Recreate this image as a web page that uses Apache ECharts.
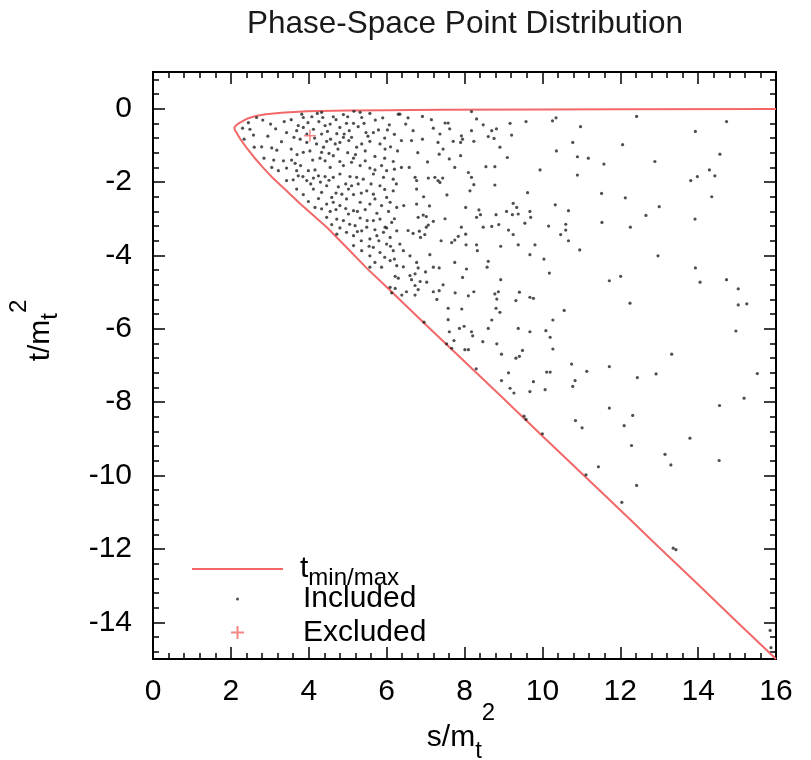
<!DOCTYPE html>
<html>
<head>
<meta charset="utf-8">
<script src="https://cdn.jsdelivr.net/npm/echarts@6/dist/echarts.min.js"></script>
<style>html,body{margin:0;padding:0;background:#fff}#c{width:811px;height:760px}</style>
</head>
<body>
<div id="c"></div>
<script>
// ---------- data ----------
const titleText = 'Phase-Space Point Distribution';
const yTickValues = [0, -2, -4, -6, -8, -10, -12, -14];

// kinematic boundary, upper branch (right to left) then lower branch (left to right)
const curveUpperS = [16, 12, 10, 7.4, 6, 5, 3.95, 3.3, 2.9, 2.67, 2.45, 2.3, 2.2, 2.14, 2.09];
const curveUpperT = [-0.01, -0.015, -0.02, -0.03, -0.04, -0.05, -0.07, -0.11, -0.15, -0.19, -0.26, -0.34, -0.40, -0.45, -0.51];
const curveLowerS = [2.10, 2.15, 2.25, 2.4, 2.6, 2.82, 3.05, 3.34, 3.78, 4.47, 4.98, 5.5, 6, 7, 8, 9, 10, 11, 12, 13, 14, 15, 16];
const curveLowerT = [-0.58, -0.66, -0.84, -1.06, -1.33, -1.6, -1.86, -2.15, -2.59, -3.24, -3.79, -4.36, -4.86, -5.88, -6.89, -7.9, -8.92, -9.93, -10.94, -11.96, -12.97, -13.99, -15.0];

const included = [
[2.66,-0.24],[2.82,-0.31],[3.02,-0.42],[3.37,-0.35],[3.82,-0.15],[3.86,-0.24],[4.08,-0.22],[4.22,-0.13],[4.33,-0.10],[4.36,-0.24],[4.63,-0.22],[4.89,-0.16],[4.97,-0.40],[5.16,-0.07],[5.32,-0.10],[5.36,-0.24],[5.57,-0.13],[5.71,-0.31],[6.07,-0.44],[6.30,-0.15],
[2.30,-0.53],[2.49,-0.56],[2.34,-0.83],[3.43,-0.65],[3.69,-0.60],[3.73,-0.46],[3.86,-0.51],[3.95,-0.69],[4.12,-0.56],[4.33,-0.69],[4.42,-0.46],[4.55,-0.42],[4.80,-0.51],[4.91,-0.69],[5.04,-0.60],[5.15,-0.40],[5.27,-0.49],[5.47,-0.65],[5.66,-0.65],[5.79,-0.58],[6.02,-0.58],
[2.79,-1.04],[3.05,-1.07],[3.18,-1.13],[3.78,-0.83],[3.95,-0.92],[3.86,-1.19],[4.03,-1.15],[4.20,-0.96],[4.33,-1.19],[4.46,-0.89],[4.56,-0.83],[4.68,-0.96],[4.80,-0.92],[4.89,-0.78],[5.03,-0.87],[5.23,-1.05],[5.36,-0.96],[5.57,-0.89],[5.83,-0.96],[5.96,-1.10],[6.10,-1.04],[6.28,-1.15],
[3.35,-1.42],[3.56,-1.40],[3.65,-1.49],[3.43,-1.62],[3.22,-1.69],[3.05,-1.60],[2.85,-1.35],[3.69,-1.69],[3.79,-1.55],[3.99,-1.69],[4.16,-1.67],[4.29,-1.35],[4.42,-1.42],[4.55,-1.60],[4.63,-1.28],[4.80,-1.44],[4.89,-1.55],[5.10,-1.46],[5.15,-1.35],[5.32,-1.55],[5.45,-1.42],[5.57,-1.62],[5.70,-1.67],[5.87,-1.55],[6.00,-1.69],[6.17,-1.44],
[3.43,-1.96],[3.60,-1.94],[3.73,-1.83],[3.95,-1.96],[4.12,-1.89],[4.25,-1.83],[4.42,-1.85],[4.63,-1.87],[4.80,-1.78],[5.06,-1.85],[5.23,-1.87],[5.40,-1.92],[5.66,-1.78],[5.92,-1.87],[6.17,-1.92],
[3.69,-2.19],[3.86,-2.34],[3.99,-2.53],[4.12,-2.19],[4.33,-2.28],[4.46,-2.10],[4.59,-2.42],[4.76,-2.13],[4.85,-2.33],[5.02,-2.19],[5.15,-2.34],[5.27,-2.05],[5.49,-2.24],[5.66,-2.33],[5.83,-2.10],[6.00,-2.42],[6.17,-2.24],
[4.16,-2.69],[4.33,-2.73],[4.46,-2.60],[4.63,-2.55],[4.80,-2.64],[4.97,-2.46],[5.15,-2.78],[5.32,-2.55],[5.57,-2.60],[5.70,-2.46],[5.87,-2.64],[6.09,-2.55],[6.26,-2.69],
[4.46,-2.96],[4.59,-3.16],[4.72,-3.01],[4.89,-3.05],[5.02,-2.87],[5.19,-3.19],[5.32,-2.98],[5.49,-3.23],[5.66,-3.05],[5.83,-3.01],[5.96,-3.23],[6.13,-3.10],
[4.72,-3.42],[4.97,-3.37],[5.15,-3.46],[5.36,-3.33],[5.57,-3.55],[5.75,-3.46],[5.92,-3.37],[6.09,-3.51],[6.26,-3.33],
[5.15,-3.73],[5.36,-3.87],[5.57,-4.01],[5.66,-3.78],[5.83,-3.92],[6.00,-3.69],[6.17,-3.87],
[5.57,-4.32],[5.70,-4.19],[5.87,-4.32],[6.09,-4.14],[6.26,-4.28],
[3.55,-0.30],[3.62,-0.78],[3.98,-0.38],[4.15,-0.80],[4.26,-0.35],[4.48,-0.62],[4.70,-0.30],[4.72,-0.68],[5.00,-0.22],[5.10,-0.78],[5.42,-0.40],[5.52,-0.75],[5.90,-0.25],[5.95,-0.80],[6.20,-0.70],
[3.30,-0.90],[3.55,-1.10],[3.70,-1.25],[4.10,-1.40],[4.38,-1.05],[4.52,-1.22],[4.75,-1.10],[5.00,-1.20],[5.20,-1.25],[5.45,-1.15],[5.70,-1.30],[5.95,-1.35],[6.20,-1.65],
[3.85,-1.85],[4.05,-2.05],[4.30,-2.00],[4.52,-1.95],[4.70,-2.30],[4.95,-2.05],[5.10,-2.10],[5.35,-2.30],[5.60,-2.05],[5.95,-2.20],[6.25,-2.05],
[4.25,-2.45],[4.55,-2.80],[4.70,-2.75],[4.95,-2.72],[5.25,-2.80],[5.45,-2.75],[5.75,-2.85],[6.05,-2.80],[6.20,-3.00],
[4.80,-3.25],[5.05,-3.15],[5.25,-3.35],[5.50,-3.05],[5.70,-3.30],[6.00,-3.25],[5.35,-3.60],[5.55,-3.75],[5.80,-3.60],[6.10,-3.75],[5.95,-4.05],[6.20,-4.10],
[2.45,-0.38],[2.58,-0.72],[2.95,-0.75],[3.15,-0.55],[2.60,-1.05],[3.10,-1.40],
[6.55,-0.25],[6.80,-1.20],[7.05,-1.45],[7.15,-0.30],[7.75,-1.60],[6.95,-2.40],[7.10,-2.65],[7.55,-2.35],[7.50,-3.00],[7.40,-3.60],[6.60,-4.55],[7.00,-4.45],[7.45,-4.80],[7.95,-4.60],
[6.34,-0.15],[6.92,-0.21],[8.18,-0.08],[8.31,-0.28],[8.48,-0.44],[9.17,-0.40],[9.58,-0.35],[10.26,-0.33],[10.35,-0.25],[10.98,-0.49],[12.42,-0.21],[14.73,-0.35],[13.93,-0.62],
[6.49,-0.42],[6.68,-0.60],[7.20,-0.53],[7.50,-0.39],[7.58,-0.39],[7.62,-0.55],[7.37,-0.69],[7.92,-0.74],[7.95,-0.83],[8.18,-0.60],[8.24,-0.89],[8.61,-0.76],[8.70,-0.60],[8.82,-0.55],[8.76,-0.81],[9.21,-0.72],
[6.38,-0.87],[6.64,-0.87],[6.92,-0.83],[7.32,-0.92],[7.71,-0.89],[7.90,-0.92],[8.91,-1.05],[7.45,-1.10],[7.35,-1.24],[7.61,-1.37],[7.90,-1.28],[9.10,-1.33],[10.36,-1.15],[10.78,-0.92],[10.90,-1.31],[11.18,-1.35],[11.58,-1.51],[12.06,-0.98],[12.89,-1.44],[14.56,-1.24],
[6.38,-1.60],[6.58,-1.60],[8.55,-1.58],[8.78,-1.58],[9.94,-1.67],[10.90,-1.81],[8.10,-1.74],[8.18,-1.87],[8.24,-2.07],[8.14,-2.24],[8.78,-2.08],[6.73,-1.87],[6.77,-1.96],[6.77,-2.19],[7.07,-1.89],[7.24,-1.87],[7.37,-2.01],[7.44,-1.89],[7.32,-1.96],
[13.81,-1.96],[13.98,-1.85],[14.29,-1.67],[14.43,-1.83],[14.35,-2.40],[13.92,-3.01],[11.52,-2.31],[12.13,-2.43],[13.00,-2.67],[12.66,-2.91],[11.53,-3.10],[12.26,-3.23],[9.62,-2.29],
[6.44,-2.64],[6.77,-2.60],[6.81,-2.96],[6.94,-2.90],[7.02,-2.94],[7.20,-3.07],[8.03,-2.69],[8.37,-2.76],[8.41,-2.89],[8.31,-2.96],[8.81,-2.89],[9.08,-2.80],[9.25,-2.58],[9.34,-2.69],[9.23,-2.89],[9.38,-2.87],[9.68,-2.80],[9.70,-2.96],[10.33,-2.62],[10.67,-2.78],[9.55,-3.12],[10.16,-3.20],[10.60,-3.15],[10.60,-3.31],[10.47,-3.43],[10.67,-3.60],[10.96,-3.85],[9.68,-3.98],[10.04,-4.10],[12.97,-4.01],[13.93,-4.34],
[6.55,-3.32],[6.68,-3.40],[6.84,-3.34],[6.87,-3.51],[6.98,-3.43],[7.02,-3.23],[7.07,-3.17],[6.34,-3.69],[6.43,-3.87],[6.60,-4.01],[7.11,-3.98],[7.67,-3.65],[7.75,-3.58],[7.84,-3.48],[7.92,-3.23],[8.03,-3.42],[8.04,-3.71],[8.31,-3.71],[8.33,-3.87],[8.48,-3.23],[8.70,-3.21],[8.88,-3.16],[9.13,-3.31],[9.25,-3.43],[9.38,-3.71],[8.93,-3.75],[9.81,-3.71],[7.75,-4.19],[8.61,-4.16],[8.58,-4.32],[6.77,-4.19],[6.81,-4.34],[7.20,-4.32],[7.35,-4.34],[8.05,-4.37],[6.43,-4.31],
[10.18,-4.48],[12.01,-4.57],[11.72,-4.69],[14.05,-4.73],[14.73,-4.66],[15.03,-4.91],[6.22,-4.57],[6.30,-4.62],[6.64,-4.66],[6.73,-4.50],[6.86,-4.71],[7.03,-4.73],[6.73,-4.82],[6.09,-4.87],[6.22,-4.90],[6.51,-4.99],[6.13,-5.02],[6.39,-5.08],[6.73,-5.08],[6.81,-4.93],[7.20,-4.99],[7.35,-4.96],[7.29,-5.20],[7.76,-5.02],[8.10,-5.10],[8.24,-4.99],[8.78,-5.05],[8.87,-4.99],[8.93,-4.66],[9.41,-5.00],[9.32,-5.23],[9.68,-5.14],[9.77,-5.17],[8.83,-5.19],[8.81,-5.44],[8.91,-5.55],[7.58,-5.44],[7.93,-5.46],[12.25,-5.30],[15.03,-5.35],[15.25,-5.32],[10.56,-5.50],[10.27,-5.76],[8.70,-5.76],[7.58,-5.75],[6.96,-5.82],
[7.61,-6.08],[7.87,-5.99],[7.99,-5.93],[8.18,-6.08],[8.21,-6.19],[8.61,-5.99],[9.38,-5.99],[9.68,-6.08],[10.09,-6.05],[10.20,-6.23],[14.97,-6.06],[7.73,-6.32],[7.54,-6.41],[7.67,-6.53],[8.01,-6.57],[8.10,-6.57],[8.47,-6.35],[8.83,-6.41],[9.49,-6.59],[9.32,-6.80],[9.41,-6.75],[8.95,-6.69],[10.27,-6.55],[13.32,-6.69],
[8.30,-7.09],[9.13,-7.20],[8.95,-7.41],[9.77,-7.44],[10.11,-7.18],[10.20,-7.18],[10.75,-6.96],[10.84,-7.41],[10.78,-7.57],[11.14,-7.16],[11.72,-7.03],[12.44,-7.33],[12.92,-7.23],[15.52,-7.22],[9.17,-7.62],[9.27,-7.75],[9.68,-7.71],[10.07,-7.66],[15.18,-7.89],[14.55,-8.09],[11.72,-8.16],[12.32,-8.36],[9.53,-8.38],[9.58,-8.47],[10.85,-8.50],[11.02,-8.70],[12.10,-8.64],[10.00,-8.86],[13.79,-8.98],[12.29,-9.18],[13.15,-9.42],[13.30,-9.71],[14.54,-9.59],[11.44,-9.76],[11.12,-9.98],[12.42,-10.27],[12.04,-10.73],[13.36,-11.98],[13.43,-12.02],[15.85,-14.22],[15.87,-14.69]
];
const excluded = [[4.03, -0.74]];

// ---------- styling ----------
const FONT = 'Liberation Sans, Arial, Helvetica, sans-serif';
const RED = '#f26868';
const plusIcon = 'path://M5.25,0h1.5v12h-1.5z M0,5.25h12v1.5h-12z';
const plusLegendIcon = 'path://M5.5,0h2v13h-2z M0,5.5h13v2h-13z';
const lineLegendIcon = 'path://M0,0h91v2h-91z';

const curveData = [];
for (let i = 0; i < curveUpperS.length; i++) curveData.push([curveUpperS[i], curveUpperT[i]]);
for (let i = 0; i < curveLowerS.length; i++) curveData.push([curveLowerS[i], curveLowerT[i]]);

const yMinorValues = [];
for (let k = -37; k <= 2; k++) {
  const v = Math.round(k * 0.4 * 10) / 10;
  if (v < -15 || v > 1) continue;
  if (Math.abs(v / 2 - Math.round(v / 2)) < 1e-6) continue;
  yMinorValues.push(v);
}

const axisLineStyle = { show: true, onZero: false, lineStyle: { color: '#000', width: 2 } };
const tickStyle = { color: '#000', width: 1.5 };
const labelStyle = { fontSize: 30, color: '#000', fontFamily: FONT };

function xAxisDef(pos, showLabel) {
  return {
    type: 'value', min: 0, max: 16, interval: 2, position: pos,
    axisLine: axisLineStyle,
    axisTick: { show: true, inside: true, length: 12, lineStyle: tickStyle },
    minorTick: { show: true, splitNumber: 5, length: 6, lineStyle: tickStyle },
    splitLine: { show: false }, minorSplitLine: { show: false },
    axisLabel: Object.assign({ show: showLabel, margin: 18 }, labelStyle)
  };
}
function yAxisDef(pos, values, len, showLine, showLabel) {
  return {
    type: 'value', min: -15, max: 1, position: pos,
    axisLine: showLine ? axisLineStyle : { show: false, onZero: false },
    axisTick: { show: true, inside: true, length: len, customValues: values, lineStyle: tickStyle },
    splitLine: { show: false },
    axisLabel: Object.assign({ show: showLabel, margin: 21, customValues: values }, labelStyle)
  };
}

const xMain = xAxisDef('bottom', true);
xMain.name = '{m|s/m}{sub|t}{sup|2}';
xMain.nameLocation = 'middle';
xMain.nameGap = 42;
xMain.nameMoveOverlap = false;
xMain.nameTextStyle = {
  fontSize: 30, fontFamily: FONT, color: '#000', padding: [0, 7, 0, 0],
  rich: {
    m: { fontSize: 30, fontFamily: FONT, color: '#000' },
    sub: { fontSize: 24, fontFamily: FONT, color: '#000', padding: [26, 0, 0, 0] },
    sup: { fontSize: 24, fontFamily: FONT, color: '#000', padding: [0, 0, 50, 0] }
  }
};

const yMain = yAxisDef('left', yTickValues, 12, true, true);
yMain.name = '{m|t/m}{sub|t}{sup|2}';
yMain.nameLocation = 'middle';
yMain.nameGap = 78;
yMain.nameMoveOverlap = false;
yMain.nameTextStyle = {
  fontSize: 30, fontFamily: FONT, color: '#000', padding: [0, 0, 0, 70],
  rich: {
    m: { fontSize: 30, fontFamily: FONT, color: '#000' },
    sub: { fontSize: 24, fontFamily: FONT, color: '#000', padding: [18, 0, 0, 0] },
    sup: { fontSize: 24, fontFamily: FONT, color: '#000', padding: [0, 0, 44, 0] }
  }
};

const option = {
  animation: false,
  backgroundColor: '#fff',
  title: {
    text: titleText, left: 247, top: 8, padding: 0,
    textStyle: { fontSize: 31.5, fontWeight: 'normal', fontFamily: FONT, color: '#1a1a1a' }
  },
  grid: { left: 153, right: 35, top: 72, bottom: 101, containLabel: false, outerBoundsMode: 'none' },
  xAxis: [xMain, xAxisDef('top', false)],
  yAxis: [
    yMain,
    yAxisDef('left', yMinorValues, 6, false, false),
    yAxisDef('right', yTickValues, 12, true, false),
    yAxisDef('right', yMinorValues, 6, false, false)
  ],
  legend: [
    {
      left: 192, top: 554, padding: 0, itemWidth: 91, itemHeight: 14, selectedMode: false,
      data: [{ name: 't_min/max', icon: lineLegendIcon }],
      formatter: function () { return '{t|t}{s|min/max}'; },
      textStyle: {
        fontSize: 30, fontFamily: FONT, color: '#000', padding: [0, 0, 0, 12],
        rich: {
          t: { fontSize: 30, fontFamily: FONT, color: '#000' },
          s: { fontSize: 24, fontFamily: FONT, color: '#000', padding: [18, 0, 0, 0] }
        }
      }
    },
    {
      left: 236, top: 584, padding: 0, itemWidth: 3, itemHeight: 3, selectedMode: false,
      data: [{ name: 'Included', icon: 'circle' }],
      textStyle: { fontSize: 30, fontFamily: FONT, color: '#000', padding: [0, 0, 0, 59] }
    },
    {
      left: 231, top: 617.5, padding: 0, itemWidth: 13, itemHeight: 13, selectedMode: false,
      data: [{ name: 'Excluded', icon: plusLegendIcon }],
      textStyle: { fontSize: 30, fontFamily: FONT, color: '#000', padding: [0, 0, 0, 54] }
    }
  ],
  series: [
    {
      name: 't_min/max', type: 'line', data: curveData, showSymbol: false, symbol: 'none',
      lineStyle: { color: RED, width: 2 }, itemStyle: { color: RED }, z: 2, silent: true
    },
    {
      name: 'Included', type: 'scatter', data: included, symbol: 'circle', symbolSize: 3.2,
      itemStyle: { color: '#222' }, z: 3, silent: true
    },
    {
      name: 'Excluded', type: 'scatter', data: excluded, symbol: plusIcon, symbolSize: 12,
      itemStyle: { color: RED }, z: 4, silent: true
    }
  ]
};

const chart = echarts.init(document.getElementById('c'), null, { renderer: 'canvas' });
chart.setOption(option);
</script>
</body>
</html>
